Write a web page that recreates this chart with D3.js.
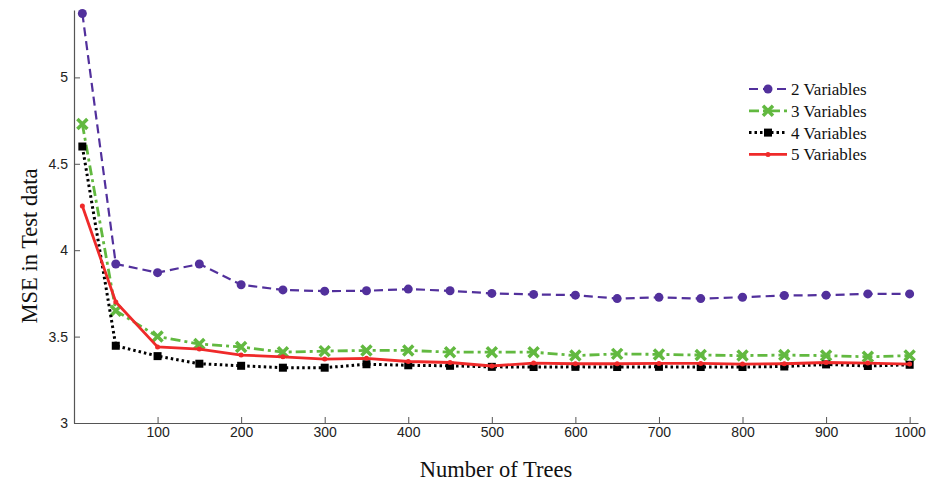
<!DOCTYPE html>
<html>
<head>
<meta charset="utf-8">
<script src="https://cdn.jsdelivr.net/npm/d3@7"></script>
<style>
  body { margin: 0; background: #fff; }
  .tick text { font-family: "Liberation Sans", Arial, sans-serif; font-size: 14px; fill: #222; }
</style>
</head>
<body>
<div id="chart"></div>
<script>
// Data
const trees = [10, 50, 100, 150, 200, 250, 300, 350, 400, 450, 500, 550, 600, 650, 700, 750, 800, 850, 900, 950, 1000];
const mse2 = [5.37, 3.92, 3.87, 3.92, 3.80, 3.77, 3.763, 3.765, 3.775, 3.765, 3.75, 3.744, 3.74, 3.72, 3.727, 3.72, 3.728, 3.738, 3.74, 3.747, 3.747];
const mse3 = [4.73, 3.65, 3.50, 3.457, 3.44, 3.41, 3.416, 3.42, 3.42, 3.41, 3.41, 3.41, 3.39, 3.40, 3.397, 3.393, 3.39, 3.393, 3.39, 3.383, 3.39];
const mse4 = [4.60, 3.447, 3.387, 3.343, 3.331, 3.32, 3.32, 3.34, 3.334, 3.331, 3.325, 3.324, 3.325, 3.324, 3.325, 3.324, 3.324, 3.327, 3.339, 3.33, 3.337];
const mse5 = [4.256, 3.70, 3.44, 3.428, 3.393, 3.383, 3.37, 3.374, 3.356, 3.35, 3.33, 3.347, 3.343, 3.343, 3.345, 3.345, 3.341, 3.343, 3.35, 3.347, 3.341];
const seriesNames = ["2 Variables", "3 Variables", "4 Variables", "5 Variables"];
const xTicks = [100, 200, 300, 400, 500, 600, 700, 800, 900, 1000];
const yTicks = [3, 3.5, 4, 4.5, 5];

const W = 927, H = 486;
const svg = d3.select("#chart").append("svg")
    .attr("width", W)
    .attr("height", H);

const x = d3.scaleLinear().domain([0, 1010]).range([74, 918]);
const y = d3.scaleLinear().domain([3, 5.39]).range([423, 10]);

// Axes (ticks pointing inward, like Matlab)
const axisColor = "#555";
const gx = svg.append("g")
    .attr("transform", `translate(0, ${y(3)})`)
    .call(d3.axisBottom(x).tickValues(xTicks).tickSizeInner(-6).tickSizeOuter(0).tickPadding(4).tickFormat(d3.format("d")));
const gy = svg.append("g")
    .attr("transform", `translate(${x(0)}, 0)`)
    .call(d3.axisLeft(y).tickValues(yTicks).tickSizeInner(-6).tickSizeOuter(0).tickPadding(6).tickFormat(d => d));
[gx, gy].forEach(g => {
    g.select(".domain").attr("stroke", axisColor).attr("stroke-width", 1.2);
    g.selectAll(".tick line").attr("stroke", axisColor);
});

// Series styling
const series = [
    { name: seriesNames[0], values: mse2, color: "#52309c", dash: "9,5", width: 2.2, marker: "circle" },
    { name: seriesNames[1], values: mse3, color: "#62b940", dash: "10,4,3,4", width: 2.8, marker: "cross" },
    { name: seriesNames[2], values: mse4, color: "#000000", dash: "2.5,3", width: 3, marker: "square" },
    { name: seriesNames[3], values: mse5, color: "#ef2a2a", dash: null, width: 2.8, marker: "dot" }
];

const line = d3.line().x(d => x(d[0])).y(d => y(d[1]));

function drawMarker(g, s, px, py) {
    if (s.marker === "circle") {
        g.append("circle").attr("cx", px).attr("cy", py).attr("r", 4.5).attr("fill", s.color);
    } else if (s.marker === "cross") {
        const r = 5;
        g.append("path")
            .attr("d", `M${px - r},${py - r}L${px + r},${py + r}M${px - r},${py + r}L${px + r},${py - r}`)
            .attr("stroke", s.color).attr("stroke-width", 3.5).attr("fill", "none");
    } else if (s.marker === "square") {
        g.append("rect").attr("x", px - 4).attr("y", py - 4).attr("width", 8).attr("height", 8).attr("fill", s.color);
    } else {
        g.append("circle").attr("cx", px).attr("cy", py).attr("r", 2.5).attr("fill", s.color);
    }
}

// Draw in order so red sits above black as in the picture
[0, 1, 2, 3].forEach(i => {
    const s = series[i];
    const pts = trees.map((t, j) => [t, s.values[j]]);
    const g = svg.append("g");
    g.append("path")
        .datum(pts)
        .attr("d", line)
        .attr("fill", "none")
        .attr("stroke", s.color)
        .attr("stroke-width", s.width)
        .attr("stroke-dasharray", s.dash);
    pts.forEach(p => drawMarker(g, s, x(p[0]), y(p[1])));
});

// Axis titles
svg.append("text")
    .attr("x", 496)
    .attr("y", 477)
    .attr("text-anchor", "middle")
    .style("font-family", "'Liberation Serif', 'Times New Roman', serif")
    .style("font-size", "22.5px")
    .attr("fill", "#111")
    .text("Number of Trees");

svg.append("text")
    .attr("transform", "translate(37, 246) rotate(-90)")
    .attr("text-anchor", "middle")
    .style("font-family", "'Liberation Serif', 'Times New Roman', serif")
    .style("font-size", "22.5px")
    .attr("fill", "#111")
    .text("MSE in Test data");

// Legend
const legend = svg.append("g").attr("transform", "translate(749, 89)");
series.forEach((s, i) => {
    const row = legend.append("g").attr("transform", `translate(0, ${i * 21.8})`);
    row.append("line")
        .attr("x1", 0).attr("x2", 38).attr("y1", 0).attr("y2", 0)
        .attr("stroke", s.color)
        .attr("stroke-width", s.width)
        .attr("stroke-dasharray", s.dash);
    drawMarker(row, s, 19, 0);
    row.append("text")
        .attr("x", 42)
        .attr("y", 0)
        .attr("dy", "0.35em")
        .style("font-family", "'Liberation Serif', 'Times New Roman', serif")
        .style("font-size", "17px")
        .attr("fill", "#111")
        .text(s.name);
});
</script>
</body>
</html>
